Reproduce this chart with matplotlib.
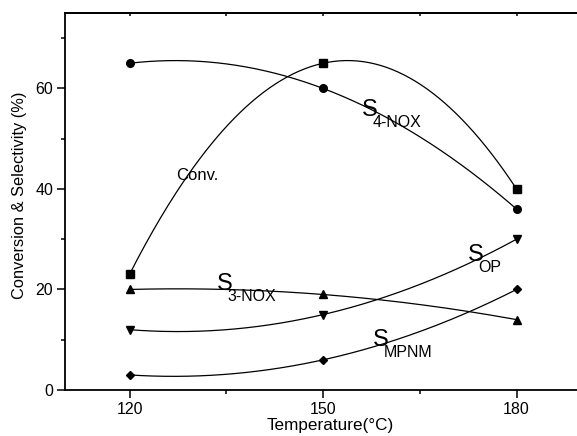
import numpy as np
import matplotlib
matplotlib.use("Agg")
import matplotlib.pyplot as plt
from matplotlib.transforms import offset_copy

plt.rcParams['font.family'] = ['Liberation Sans', 'DejaVu Sans']

temps = [120, 150, 180]
conv = [23, 65, 40]
s_4nox = [65, 60, 36]
s_3nox = [20, 19, 14]
s_op = [12, 15, 30]
s_mpnm = [3, 6, 20]

series = [
    (conv, 's'),
    (s_4nox, 'o'),
    (s_3nox, '^'),
    (s_op, 'v'),
    (s_mpnm, 'D'),
]

fig = plt.figure(figsize=(5.77, 4.36), dpi=100)
ax = fig.add_axes([65/577, 46/436, 516/577, 377/436])

xs = np.linspace(temps[0], temps[-1], 200)
for vals, m in series:
    coef = np.polyfit(temps, vals, 2)
    ax.plot(xs, np.polyval(coef, xs), color='black', lw=0.9)
    ax.plot(temps, vals, linestyle='none', marker=m, color='black',
            markersize=5.5 if m != 'D' else 4.5)

ax.set_xlim(110, 190)
ax.set_ylim(0, 75)
ax.set_xticks([120, 150, 180])
ax.set_xticks([135, 165], minor=True)
ax.set_yticks([0, 20, 40, 60])
ax.set_yticks([10, 30, 50, 70], minor=True)
ax.spines['right'].set_visible(False)
for s in ['left', 'bottom', 'top']:
    ax.spines[s].set_linewidth(1.3)
ax.tick_params(axis='both', which='major', direction='out', length=5.5, width=1.1,
               labelsize=11.5, pad=3)
ax.tick_params(axis='both', which='minor', direction='out', length=3, width=1.1)

# short inward ticks on the top spine via a secondary axis
top = ax.secondary_xaxis('top')
top.set_xticks([120, 150, 180])
top.set_xticks([135, 165], minor=True)
top.tick_params(axis='x', which='both', direction='in', length=2.5, width=1.1,
                labeltop=False)
top.spines['top'].set_linewidth(1.3)

ax.set_xlabel('Temperature(°C)', fontsize=12.3)
ax.xaxis.set_label_coords((330-65)/516, -28/377)
ax.set_ylabel('Conversion & Selectivity (%)', fontsize=11.8)
ax.yaxis.set_label_coords((27-65)/516, (390-195)/377)

ax.text(127.3, 42.6, 'Conv.', fontsize=12, va='center', ha='left')

labels = [
    (156.1, 54.6, '4-NOX'),
    (133.6, 19.9, '3-NOX'),
    (172.4, 25.7, 'OP'),
    (157.8, 8.8, 'MPNM'),
]
for x, y, sub in labels:
    ax.text(x, y, 'S', fontsize=17, ha='left', va='baseline')
    tr = offset_copy(ax.transData, fig=fig, x=7.5, y=-8, units='points')
    ax.text(x, y, sub, fontsize=11.5, ha='left', va='baseline', transform=tr)

fig.savefig('out.png', dpi=100)
